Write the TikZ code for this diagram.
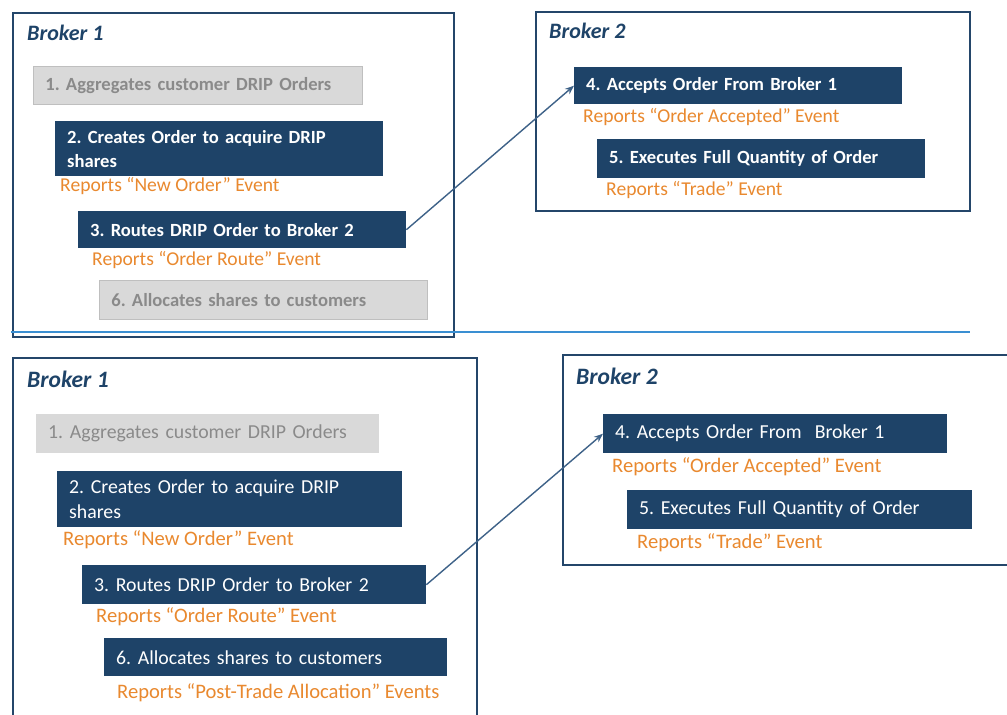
\documentclass[tikz,border=0pt]{standalone}
\usepackage{fontspec}
\setmainfont{Carlito}
\usetikzlibrary{arrows.meta}
\definecolor{dblue}{HTML}{1E4368}
\definecolor{bframe}{HTML}{24466A}
\definecolor{lgray}{HTML}{D9D9D9}
\definecolor{gborder}{HTML}{BFBFBF}
\definecolor{gtext}{HTML}{8A8A8A}
\definecolor{orng}{HTML}{E9892F}
\definecolor{sepblue}{HTML}{3A8FD2}
\definecolor{arrowc}{HTML}{3E6288}
\tikzset{
  box/.style={rectangle, anchor=north west, inner xsep=12pt, inner ysep=0pt, align=left},
  dbox/.style={box, fill=dblue, text=white},
  gbox/.style={box, fill=lgray, text=gtext},
  topf/.style={font=\frenchspacing\bfseries\fontsize{18.6}{24}\selectfont},
  botf/.style={font=\frenchspacing\fontsize{19.8}{25}\selectfont},
  lab/.style={anchor=west, inner sep=0pt, text=orng},
  toplab/.style={lab, font=\fontsize{19.6}{22}\selectfont},
  botlab/.style={lab, font=\fontsize{20.6}{22}\selectfont},
  title/.style={anchor=west, inner sep=0pt, text=dblue},
  toptitle/.style={title, font=\bfseries\itshape\fontsize{22}{24}\selectfont},
  bottitle/.style={title, font=\bfseries\itshape\fontsize{23.5}{26}\selectfont},
  topframe/.style={draw=bframe, line width=2.6pt},
  botframe/.style={draw=bframe, line width=2pt},
  conn/.style={draw=arrowc, line width=1.4pt, -{Stealth[length=9pt,width=7pt]}}
}
\begin{document}
\begin{tikzpicture}[x=1pt,y=-1pt]
\useasboundingbox (0,0) rectangle (1007,715);
\clip (0,0) rectangle (1007,715);
\fill[white] (0,0) rectangle (1007,715);

% ---------- top half ----------
\draw[topframe] (13,13) rectangle (454,337);
\node[toptitle] (tb1) at (27,33) {Broker 1};
\node[gbox, topf, draw=gborder, line width=0.8pt, text width=305pt, minimum height=38pt] (t1) at (33,66) {1. Aggregates customer DRIP Orders};
\node[dbox, topf, text width=304pt, minimum height=55pt] (t2) at (55,121) {2. Creates Order to acquire DRIP\\shares};
\node[toplab] (t2l) at (60,186) {Reports “New Order” Event};
\node[dbox, topf, text width=304pt, minimum height=37pt] (t3) at (78,211) {3. Routes DRIP Order to Broker 2};
\node[toplab] (t3l) at (92,260) {Reports “Order Route” Event};
\node[gbox, topf, draw=gborder, line width=0.8pt, text width=304pt, minimum height=39pt] (t6) at (99,280) {6. Allocates shares to customers};

\draw[topframe] (536,12) rectangle (970,211);
\node[toptitle] (tb2) at (549,31) {Broker 2};
\node[dbox, topf, text width=304pt, minimum height=37pt] (t4) at (574,67) {4. Accepts Order From Broker 1};
\node[toplab] (t4l) at (583,117) {Reports “Order Accepted” Event};
\node[dbox, topf, text width=304pt, minimum height=39pt] (t5) at (597,139) {5. Executes Full Quantity of Order};
\node[toplab] (t5l) at (606,190) {Reports “Trade” Event};

\draw[conn] (t3.east) -- (t4.west);

% separator
\draw[sepblue, line width=1.6pt] (11,332) -- (970,332);

% ---------- bottom half ----------
\draw[botframe] (13,358) rectangle (477,740);
\node[bottitle] (bb1) at (27,379) {Broker 1};
\node[gbox, botf, text width=319pt, minimum height=39pt] (b1) at (36,414) {1. Aggregates customer DRIP Orders};
\node[dbox, botf, text width=321pt, minimum height=56pt] (b2) at (57,471) {2. Creates Order to acquire DRIP\\shares};
\node[botlab] (b2l) at (63,540) {Reports “New Order” Event};
\node[dbox, botf, text width=320pt, minimum height=39pt] (b3) at (82,565) {3. Routes DRIP Order to Broker 2};
\node[botlab] (b3l) at (96,617) {Reports “Order Route” Event};
\node[dbox, botf, text width=319pt, minimum height=38pt] (b6) at (104,638) {6. Allocates shares to customers};
\node[botlab] (b6l) at (117,693) {Reports “Post-Trade Allocation” Events};

\draw[botframe] (563,355) rectangle (1020,565);
\node[bottitle] (bb2) at (576,376) {Broker 2};
\node[dbox, botf, text width=320pt, minimum height=39pt] (b4) at (603,414) {4. Accepts Order From\ \ Broker 1};
\node[botlab] (b4l) at (612,467) {Reports “Order Accepted” Event};
\node[dbox, botf, text width=321pt, minimum height=39pt] (b5) at (627,490) {5. Executes Full Quantity of Order};
\node[botlab] (b5l) at (637,543) {Reports “Trade” Event};

\draw[conn] (b3.east) -- (b4.west);
\end{tikzpicture}
\end{document}
